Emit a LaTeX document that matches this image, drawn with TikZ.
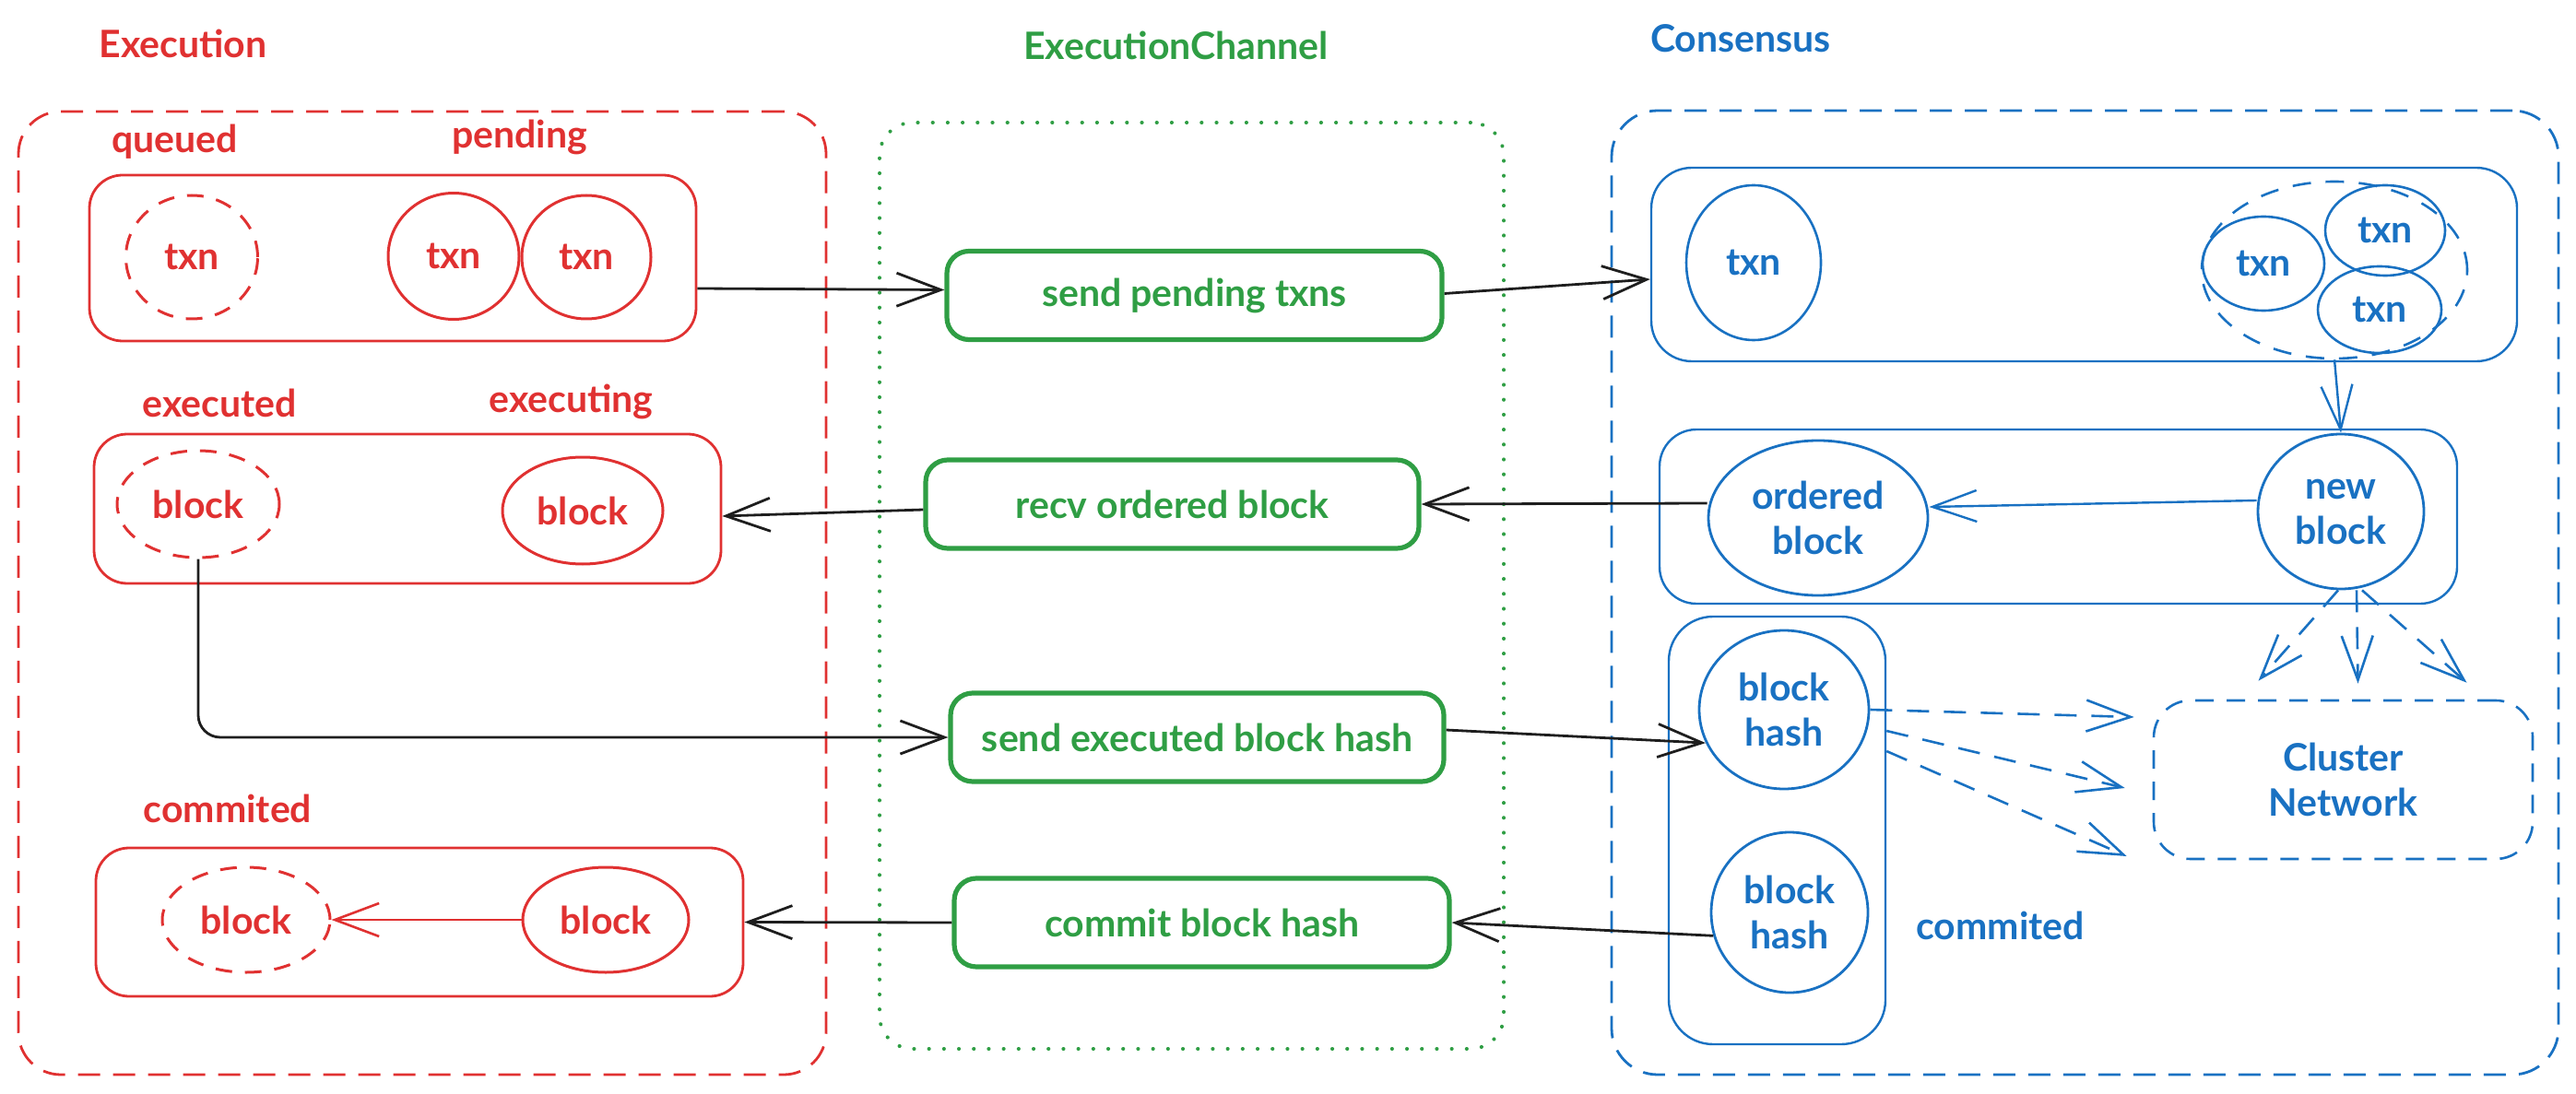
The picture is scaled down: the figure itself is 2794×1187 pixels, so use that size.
\documentclass[tikz,border=0pt]{standalone}
\usepackage{fontspec}
\setmainfont{Lato}
\usetikzlibrary{shapes.geometric,arrows.meta}
\definecolor{exred}{HTML}{E03131}
\definecolor{chgreen}{HTML}{2F9E44}
\definecolor{coblue}{HTML}{1971C2}
\definecolor{ink}{HTML}{1E1E1E}
\begin{document}
\begin{tikzpicture}[x=0.5pt,y=-0.5pt,
  every node/.style={font=\fontsize{20.5pt}{24.5pt}\selectfont\bfseries, inner sep=0pt, align=center},
  bubble/.style={ellipse, draw, line width=1.5pt},
  ghost/.style={ellipse, draw, line width=1.5pt, dash pattern=on 9pt off 7pt},
  panel/.style={rectangle, draw, rounded corners=18pt, line width=1.4pt},
  frame/.style={rectangle, draw, rounded corners=23pt, line width=1.4pt, dash pattern=on 12pt off 7pt},
  dotframe/.style={rectangle, draw=chgreen, rounded corners=18pt, line width=2pt, line cap=round, dash pattern=on 0.1pt off 8pt},
  chanbox/.style={rectangle, draw=chgreen, text=chgreen, rounded corners=12pt, line width=2.6pt, minimum height=48pt},
  exs/.style={draw=exred, text=exred},
  cos/.style={draw=coblue, text=coblue},
  link/.style={draw=ink, line width=1.4pt, -{Straight Barb[length=24pt,width=18pt]}},
  redlink/.style={draw=exred, line width=1.3pt, -{Straight Barb[length=24pt,width=18pt]}},
  bluelink/.style={draw=coblue, line width=1.2pt, -{Straight Barb[length=24pt,width=17pt]}},
  bluedash/.style={draw=coblue, line width=1.3pt, dash pattern=on 12pt off 8pt, -{Straight Barb[length=24pt,width=17pt]}},
  lbl/.style={anchor=base}
]
\useasboundingbox (0,0) rectangle (2794,1187);

% ---------- section titles ----------
\node[lbl, text=exred] (tExec) at (198.5,63) {Execution};
\node[lbl, text=chgreen] (tChan) at (1275.5,65) {ExecutionChannel};
\node[lbl, text=coblue] (tCons) at (1888,57) {Consensus};

% ---------- Execution ----------
\node[frame, draw=exred, minimum width=438pt, minimum height=522.5pt] (exOuter) at (458,643.5) {};
\node[lbl, text=exred] (lQueued) at (189.5,166) {queued};
\node[lbl, text=exred] (lPending) at (563.5,161) {pending};
\node[panel, draw=exred, minimum width=329pt, minimum height=90pt] (exBox1) at (426,280) {};
\node[ghost, exs, minimum width=71.5pt, minimum height=67pt] (exQ) at (208,279) {txn};
\node[bubble, exs, minimum width=71pt, minimum height=68.5pt] (exP1) at (492,278) {txn};
\node[bubble, exs, minimum width=70pt, minimum height=67pt] (exP2) at (636,279) {txn};

\node[lbl, text=exred] (lExecuted) at (238,452) {executed};
\node[lbl, text=exred] (lExecuting) at (619.5,448) {executing};
\node[panel, draw=exred, minimum width=340pt, minimum height=81pt] (exBox2) at (442,552) {};
\node[ghost, exs, minimum width=88pt, minimum height=58pt] (exE) at (215,547) {block};
\node[bubble, exs, minimum width=87pt, minimum height=58pt] (exX) at (632,554) {block};

\node[lbl, text=exred] (lCommRed) at (247,892) {commited};
\node[panel, draw=exred, minimum width=351pt, minimum height=80.5pt] (exBox3) at (455,1000.5) {};
\node[ghost, exs, minimum width=91pt, minimum height=57pt] (exC1) at (267,998) {block};
\node[bubble, exs, minimum width=90pt, minimum height=57pt] (exC2) at (657,998) {block};

% ---------- ExecutionChannel ----------
\node[dotframe, minimum width=338.5pt, minimum height=502.5pt] (chOuter) at (1292.5,635.5) {};
\node[chanbox, minimum width=268.5pt] (chSend) at (1295.5,320.5) {send pending txns};
\node[chanbox, minimum width=267.5pt] (chRecv) at (1271.5,547) {recv ordered block};
\node[chanbox, minimum width=267.5pt] (chExec) at (1298.5,800) {send executed block hash};
\node[chanbox, minimum width=268.5pt] (chCommit) at (1303.5,1001) {commit block hash};

% ---------- Consensus ----------
\node[frame, draw=coblue, rounded corners=25pt, minimum width=513.5pt, minimum height=523pt] (coOuter) at (2261.5,643) {};
\node[panel, draw=coblue, line width=1.2pt, rounded corners=22pt, minimum width=469.5pt, minimum height=105pt] (coBox1) at (2260.5,287) {};
\node[bubble, cos, line width=1.3pt, minimum width=73pt, minimum height=84pt] (coT) at (1902,285) {txn};
\node[ghost, cos, line width=1.3pt, dash pattern=on 10pt off 8pt, minimum width=144pt, minimum height=96pt] (coG) at (2532,293) {};
\node[bubble, cos, line width=1.3pt, minimum width=66pt, minimum height=51pt] (coT1) at (2455,286) {txn};
\node[bubble, cos, line width=1.3pt, minimum width=65pt, minimum height=49pt] (coT2) at (2587,250) {txn};
\node[bubble, cos, line width=1.3pt, minimum width=67pt, minimum height=47pt] (coT3) at (2581,336) {txn};

\node[panel, draw=coblue, line width=1.2pt, rounded corners=20pt, minimum width=432.5pt, minimum height=94.5pt] (coBox2) at (2232.5,560.5) {};
\node[bubble, cos, line width=1.4pt, minimum width=119pt, minimum height=84pt] (coOrd) at (1972,562) {ordered\\block};
\node[bubble, cos, line width=1.4pt, minimum width=90pt, minimum height=84pt] (coNew) at (2539,555) {new\\block};

\node[panel, draw=coblue, line width=1.2pt, rounded corners=24pt, minimum width=117.5pt, minimum height=232pt] (coBox3) at (1927.5,901) {};
\node[bubble, cos, line width=1.4pt, minimum width=92pt, minimum height=86pt] (coH1) at (1935,770) {block\\hash};
\node[bubble, cos, line width=1.4pt, minimum width=85pt, minimum height=87pt] (coH2) at (1941,990) {block\\hash};
\node[lbl, text=coblue] (lCommBlue) at (2169.5,1019) {commited};

\node[frame, cos, rounded corners=20pt, line width=1.3pt, dash pattern=on 10pt off 7pt, minimum width=205.5pt, minimum height=86pt] (coNet) at (2541.5,846) {Cluster\\Network};

% ---------- connectors ----------
\draw[link] ([yshift=-16.5pt]exBox1.east) -- ([yshift=3pt]chSend.west);
\draw[link] ([yshift=1pt]chSend.east) -- ([yshift=-8pt]coBox1.west);
\draw[link] ([yshift=8pt]coOrd.west) -- (chRecv.east);
\draw[link] ([yshift=-3pt]chRecv.west) -- ([yshift=-4pt]exBox2.east);
\draw[link, rounded corners=12pt] (exE.south) |- (chExec.west);
\draw[link] ([yshift=4pt]chExec.east) -- (coH1.203);
\draw[link] (coH2.197) -- (chCommit.east);
\draw[link] (chCommit.west) -- (exBox3.east);

\draw[redlink] (exC2.west) -- (exC1.east);
\draw[bluelink] ([yshift=6pt]coNew.west) -- ([yshift=6pt]coOrd.east);
\draw[bluelink] (coG.south) -- (coNew.north);

\draw[bluedash] (coH1.east) -- ([xshift=-10pt,yshift=34pt]coNet.west);
\draw[bluedash] ([yshift=54pt]coBox3.east) -- ([xshift=-15pt,yshift=-4.5pt]coNet.west);
\draw[bluedash] ([yshift=43pt]coBox3.east) -- ([xshift=-14pt,yshift=-41.5pt]coNet.west);

\draw[bluedash] ([xshift=-1.5pt]coNew.south) -- ([xshift=-46pt,yshift=10pt]coNet.north);
\draw[bluedash] ([xshift=8.5pt]coNew.south) -- ([xshift=8pt,yshift=8.5pt]coNet.north);
\draw[bluedash] ([xshift=11.5pt]coNew.south) -- ([xshift=67pt,yshift=9pt]coNet.north);
\end{tikzpicture}
\end{document}
